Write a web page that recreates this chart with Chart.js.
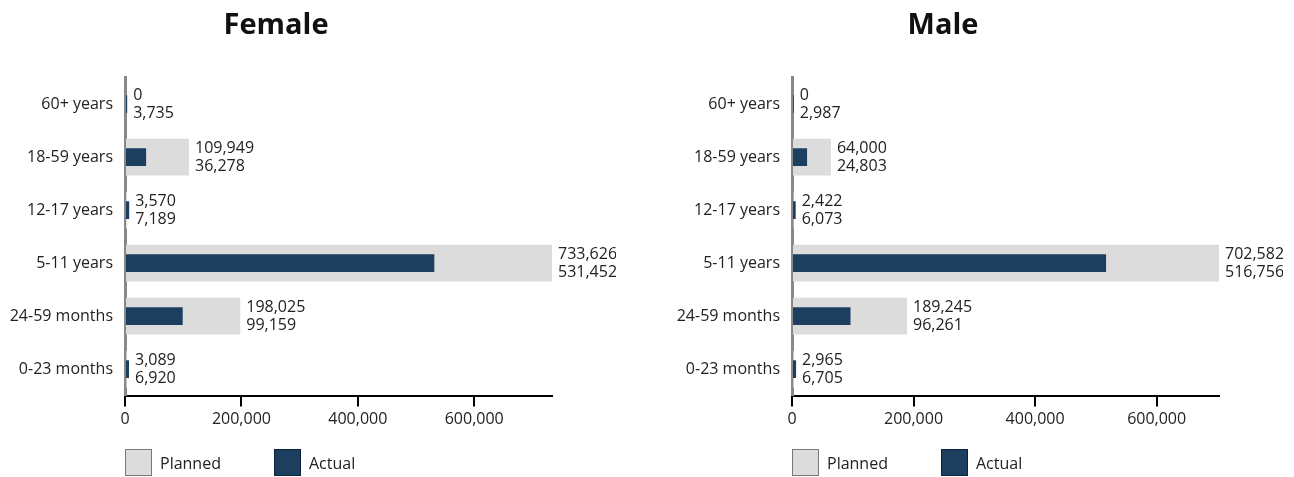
<!DOCTYPE html>
<html>
<head>
<meta charset="utf-8">
<script src="https://cdn.jsdelivr.net/npm/chart.js@4/dist/chart.umd.min.js"></script>
<style>
  body { margin: 0; background: #fff; font-family: "Open Sans", sans-serif; }
  .wrap { position: relative; width: 1294px; height: 477px; }
  .panel { position: absolute; top: 0; width: 616px; height: 477px; }
  .legend { position: absolute; top: 449px; left: 125px; display: flex; font-size: 16px; color: #222; }
  .legend span.box { display: inline-block; width: 25px; height: 25px; border: 1px solid #777; margin-right: 8px; box-sizing: content-box; }
  .legend .item { display: flex; align-items: center; margin-right: 53px; }
</style>
</head>
<body>
<div class="wrap">
  <div class="panel" style="left:0"><canvas id="female" width="616" height="477"></canvas>
    <div class="legend"><div class="item"><span class="box" style="background:#dcdcdc"></span>Planned</div><div class="item"><span class="box" style="background:#1d3f5f;border-color:#0e2236"></span>Actual</div></div>
  </div>
  <div class="panel" style="left:667px"><canvas id="male" width="616" height="477"></canvas>
    <div class="legend"><div class="item"><span class="box" style="background:#dcdcdc"></span>Planned</div><div class="item"><span class="box" style="background:#1d3f5f;border-color:#0e2236"></span>Actual</div></div>
  </div>
</div>
<script>
// categories (top to bottom)
const ageGroups = ["60+ years", "18-59 years", "12-17 years", "5-11 years", "24-59 months", "0-23 months"];

const femalePlanned = [0, 109949, 3570, 733626, 198025, 3089];
const femaleActual  = [3735, 36278, 7189, 531452, 99159, 6920];

const malePlanned = [0, 64000, 2422, 702582, 189245, 2965];
const maleActual  = [2987, 24803, 6073, 516756, 96261, 6705];

const xTicks = [0, 200000, 400000, 600000];

const fontFamily = '"Open Sans", sans-serif';

// two line label (planned / actual) right of the longest bar
const valueLabels = {
  id: 'valueLabels',
  afterDatasetsDraw(chart) {
    const ctx = chart.ctx;
    const pm = chart.getDatasetMeta(0);
    const am = chart.getDatasetMeta(1);
    ctx.save();
    ctx.font = '16px ' + fontFamily;
    ctx.fillStyle = '#222';
    ctx.textAlign = 'left';
    ctx.textBaseline = 'middle';
    pm.data.forEach((bar, i) => {
      let x = Math.max(bar.x, am.data[i].x) + 6;
      let y = bar.y;
      ctx.fillText(chart.data.datasets[0].data[i].toLocaleString('en-US'), x, y - 9);
      ctx.fillText(chart.data.datasets[1].data[i].toLocaleString('en-US'), x, y + 9);
    });
    ctx.restore();
  }
};

function makeChart(id, title, planned, actual) {
  return new Chart(document.getElementById(id).getContext('2d'), {
    type: 'bar',
    data: {
      labels: ageGroups,
      datasets: [{
        label: 'Planned',
        data: planned,
        backgroundColor: '#dcdcdc',
        barPercentage: 0.69,
        categoryPercentage: 1,
        grouped: false,
        order: 2
      }, {
        label: 'Actual',
        data: actual,
        backgroundColor: '#1d3f5f',
        barPercentage: 0.335,
        categoryPercentage: 1,
        grouped: false,
        order: 1
      }]
    },
    options: {
      indexAxis: 'y',
      responsive: false,
      animation: false,
      layout: { padding: { left: 0, right: 64, bottom: 44.4 } },
      plugins: {
        legend: { display: false },
        tooltip: { enabled: false },
        title: {
          display: true,
          text: title,
          color: '#111',
          font: { family: fontFamily, size: 29, weight: 'bold' },
          padding: { top: 8, bottom: 34.8 }
        }
      },
      scales: {
        x: {
          min: 0,
          max: Math.max(...planned, ...actual),
          border: { color: '#000', width: 2 },
          grid: { drawOnChartArea: false, color: '#000', lineWidth: 2, tickLength: 11 },
          afterBuildTicks: axis => { axis.ticks = xTicks.map(v => ({ value: v })); },
          ticks: {
            padding: 3.4,
            color: '#222',
            font: { family: fontFamily, size: 16 }
          }
        },
        y: {
          z: 1,
          afterFit: axis => { axis.width = 125; },
          border: { color: '#888', width: 3 },
          grid: { drawOnChartArea: false, drawTicks: false },
          ticks: {
            padding: 12,
            color: '#222',
            font: { family: fontFamily, size: 16 }
          }
        }
      }
    },
    plugins: [valueLabels]
  });
}

makeChart('female', 'Female', femalePlanned, femaleActual);
makeChart('male', 'Male', malePlanned, maleActual);
</script>
</body>
</html>
